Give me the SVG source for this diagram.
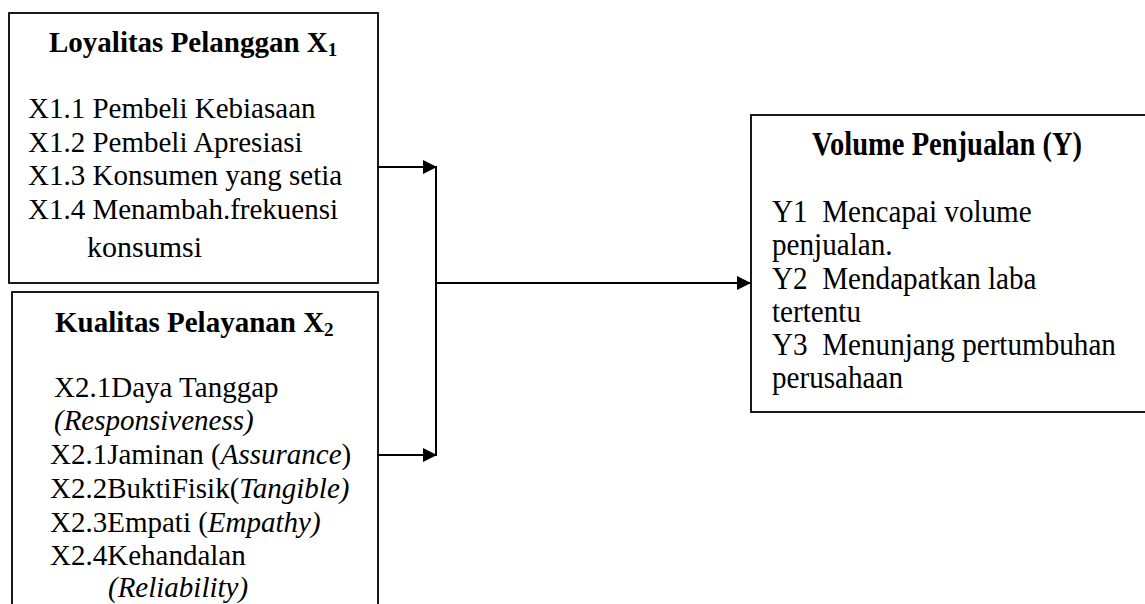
<svg xmlns="http://www.w3.org/2000/svg" width="1145" height="604" viewBox="0 0 1145 604">
<style>
.box{fill:#fff;stroke:#000;stroke-width:1.8}
.t{font-family:"Liberation Serif","Times New Roman",serif;fill:#000}
.b{font-weight:bold}
.i{font-style:italic}
.ln{stroke:#000;stroke-width:2;fill:none}
</style>
<defs>
<marker id="ah" markerWidth="14" markerHeight="14" refX="14" refY="7" orient="auto" markerUnits="userSpaceOnUse">
<path d="M0,0 L14,7 L0,14 Z" fill="#000"/>
</marker>
</defs>
<g id="x1">
<rect class="box" x="9" y="13" width="369" height="270"/>
<text class="t b" x="49" y="52" font-size="29">Loyalitas Pelanggan X<tspan font-size="19" dy="4">1</tspan></text>
<text class="t" x="28" y="118" font-size="29">X1.1 Pembeli Kebiasaan</text>
<text class="t" x="28" y="152" font-size="29">X1.2 Pembeli Apresiasi</text>
<text class="t" x="28" y="185" font-size="29">X1.3 Konsumen yang setia</text>
<text class="t" x="28" y="219" font-size="29">X1.4 Menambah.frekuensi</text>
<text class="t" x="87" y="257" font-size="30">konsumsi</text>
</g>
<g id="x2">
<rect class="box" x="12" y="292" width="366" height="330"/>
<text class="t b" x="55" y="332" font-size="29">Kualitas Pelayanan X<tspan font-size="19" dy="4">2</tspan></text>
<text class="t" x="54" y="397" font-size="29">X2.1Daya Tanggap</text>
<text class="t i" x="54" y="430" font-size="29">(Responsiveness)</text>
<text class="t" x="50" y="464" font-size="29">X2.1Jaminan (<tspan class="i">Assurance</tspan>)</text>
<text class="t" x="50" y="498" font-size="29">X2.2BuktiFisik(<tspan class="i">Tangible)</tspan></text>
<text class="t" x="50" y="532" font-size="29">X2.3Empati (<tspan class="i">Empathy)</tspan></text>
<text class="t" x="50" y="565" font-size="29">X2.4Kehandalan</text>
<text class="t i" x="108" y="597" font-size="29">(Reliability)</text>
</g>
<g id="y">
<rect class="box" x="751" y="115" width="400" height="297"/>
<g transform="translate(812,155) scale(0.84,1)">
<text class="t b" x="0" y="0" font-size="34">Volume Penjualan (Y)</text>
</g>
<g transform="translate(772,0) scale(0.94,1)">
<text class="t" x="0" y="222" font-size="31" xml:space="preserve">Y1  Mencapai volume</text>
<text class="t" x="0" y="255" font-size="31">penjualan.</text>
<text class="t" x="0" y="289" font-size="31" xml:space="preserve">Y2  Mendapatkan laba</text>
<text class="t" x="0" y="322" font-size="31">tertentu</text>
<text class="t" x="0" y="355" font-size="31" xml:space="preserve">Y3  Menunjang pertumbuhan</text>
<text class="t" x="0" y="388" font-size="31">perusahaan</text>
</g>
</g>
<g id="connectors">
<line class="ln" x1="378" y1="167" x2="437" y2="167" marker-end="url(#ah)"/>
<line class="ln" x1="378" y1="455" x2="437" y2="455" marker-end="url(#ah)"/>
<line class="ln" x1="436" y1="167" x2="436" y2="456" stroke-width="1.8"/>
<line class="ln" x1="436" y1="283" x2="751" y2="283" marker-end="url(#ah)"/>
</g>
</svg>
